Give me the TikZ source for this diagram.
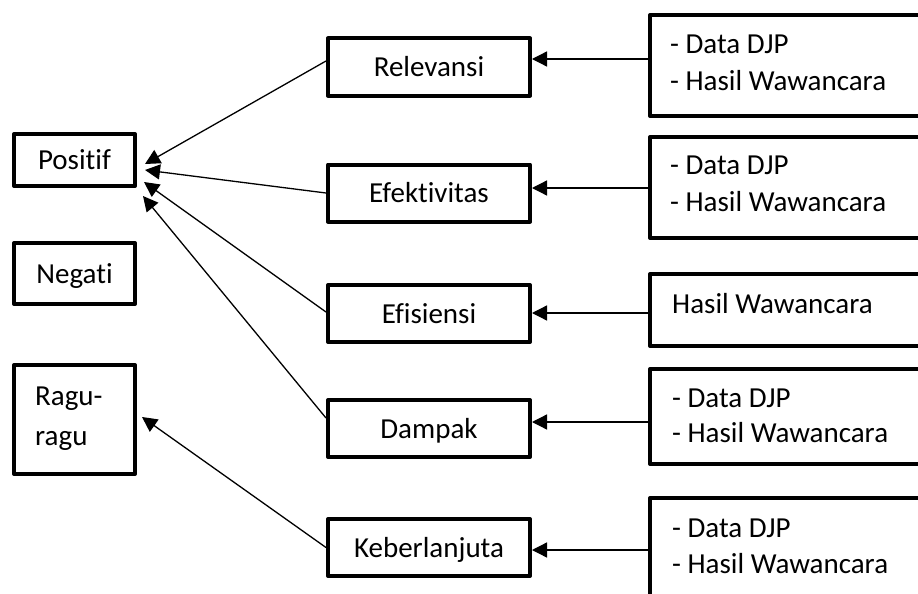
\documentclass[tikz,border=0pt]{standalone}
\usepackage{fontspec}
\setmainfont{Carlito}[Ligatures={NoCommon,NoRequired,NoContextual}]
\usetikzlibrary{arrows.meta}
\begin{document}
\begin{tikzpicture}[x=1pt,y=-1pt,
  txt/.style={inner sep=0pt, font=\fontsize{29}{36}\selectfont},
  basebox/.style={draw=black, line width=4pt, line join=round, fill=white, inner sep=0pt, font=\fontsize{29}{36}\selectfont, text height=19pt, text depth=0pt},
  lbox/.style={basebox, minimum width=121pt},
  mbox/.style={basebox, minimum width=202pt, minimum height=57pt},
  rbox/.style={basebox, minimum width=300pt},
  arr/.style={line width=1.3pt, -{Triangle[length=15pt,width=15pt]}}
]
\useasboundingbox (0,0) rectangle (918,594);
\clip (0,0) rectangle (918,594);
\fill[white] (0,0) rectangle (918,594);

% left boxes
\node[lbox, minimum height=52pt] (pos) at (74.5,160) {Positif};
\node[lbox, minimum height=61pt] (neg) at (74.5,273.5) {Negati};
\node[lbox, minimum height=109pt] (rag) at (74.5,419.5) {};
\node[txt, anchor=base west] (rag1) at (35,405) {Ragu-};
\node[txt, anchor=base west] (rag2) at (35,445) {ragu};

% middle boxes
\node[mbox] (rel) at (429,67) {Relevansi};
\node[mbox] (efk) at (429,193) {Efektivitas};
\node[mbox] (efs) at (429,313.5) {Efisiensi};
\node[mbox] (dam) at (429,428.5) {Dampak};
\node[mbox] (keb) at (429,547.5) {Keberlanjuta};

% right boxes
\node[rbox, minimum height=101pt] (s1) at (800,65.5) {};
\node[rbox, minimum height=101pt] (s2) at (800,187.5) {};
\node[rbox, minimum height=72pt] (s3) at (800,310) {};
\node[rbox, minimum height=95pt] (s4) at (800,416.5) {};
\node[rbox, minimum height=101pt] (s5) at (800,548.5) {};

\node[txt, anchor=base west] (s1a) at (670,53) {- Data DJP};
\node[txt, anchor=base west] (s1b) at (670,90) {- Hasil Wawancara};
\node[txt, anchor=base west] (s2a) at (670,174) {- Data DJP};
\node[txt, anchor=base west] (s2b) at (670,211) {- Hasil Wawancara};
\node[txt, anchor=base west] (s3a) at (672,313) {Hasil Wawancara};
\node[txt, anchor=base west] (s4a) at (672,407) {- Data DJP};
\node[txt, anchor=base west] (s4b) at (672,442) {- Hasil Wawancara};
\node[txt, anchor=base west] (s5a) at (672,537) {- Data DJP};
\node[txt, anchor=base west] (s5b) at (672,573) {- Hasil Wawancara};

% horizontal arrows
\coordinate (h1) at (0,59);
\coordinate (h2) at (0,188);
\coordinate (h3) at (0,313);
\coordinate (h4) at (0,422);
\coordinate (h5) at (0,550);
\draw[arr] (s1.west |- h1) -- (rel.east |- h1);
\draw[arr] (s2.west |- h2) -- (efk.east |- h2);
\draw[arr] (s3.west |- h3) -- (efs.east |- h3);
\draw[arr] (s4.west |- h4) -- (dam.east |- h4);
\draw[arr] (s5.west |- h5) -- (keb.east |- h5);

% diagonal arrows
\draw[arr] ([yshift=6pt]rel.west) -- ([shift={(8,4)}]pos.east);
\draw[arr] (efk.west) -- ([shift={(8,10)}]pos.east);
\draw[arr] ([yshift=1.5pt]efs.west) -- ([shift={(7,22)}]pos.east);
\draw[arr] ([yshift=10.5pt]dam.west) -- ([shift={(6,36)}]pos.east);
\draw[arr] (keb.west) -- ([shift={(5,-2.5)}]rag.east);
\end{tikzpicture}
\end{document}
